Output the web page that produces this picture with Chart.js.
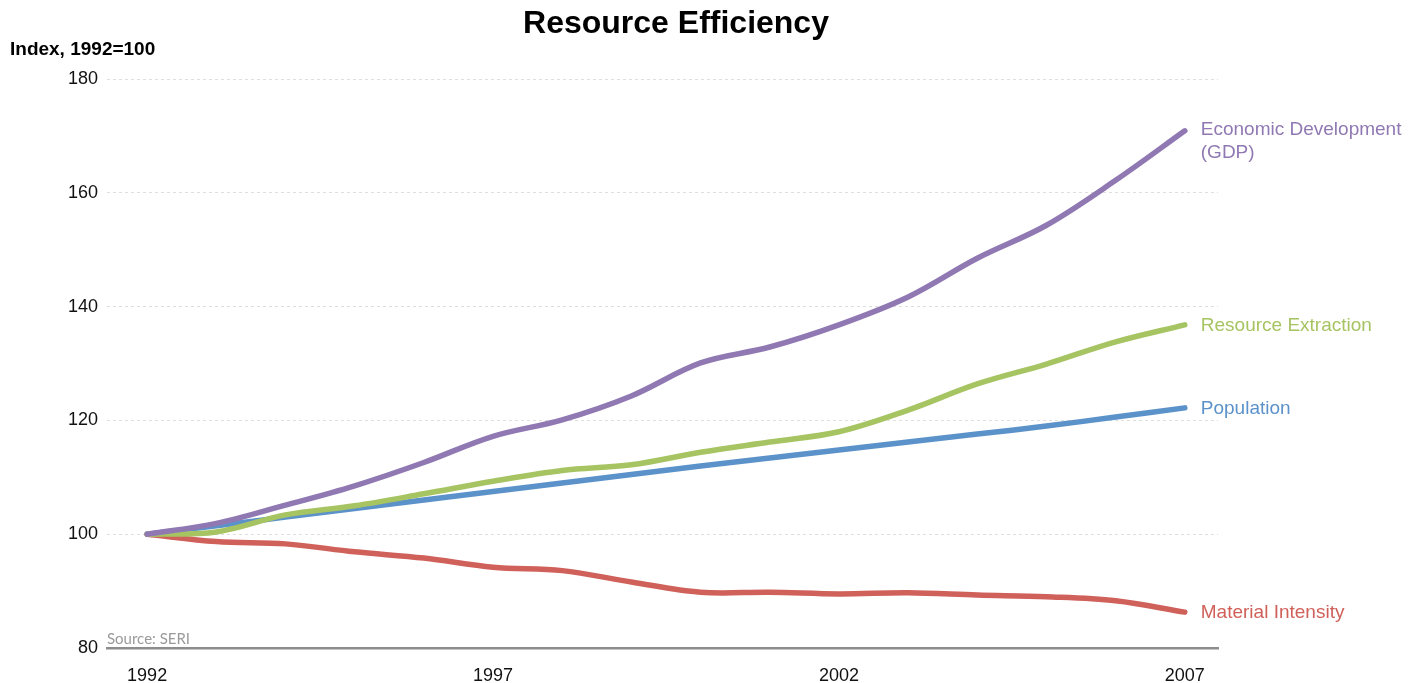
<!DOCTYPE html>
<html>
<head>
<meta charset="utf-8">
<title>Resource Efficiency</title>
<script src="https://cdn.jsdelivr.net/npm/chart.js@4/dist/chart.umd.min.js"></script>
<style>
  html, body { margin: 0; padding: 0; background: #fff; }
  #wrap { width: 1418px; height: 683px; position: relative; }
</style>
</head>
<body>
<div id="wrap"><canvas id="chart"></canvas></div>
<script>
// data (index, 1992 = 100)
const years = [1992, 1993, 1994, 1995, 1996, 1997, 1998, 1999, 2000, 2001, 2002, 2003, 2004, 2005, 2006, 2007];
const gdp = [100, 101.9, 105.1, 108.5, 112.6, 117.2, 120.1, 124.3, 130.1, 132.9, 136.8, 141.7, 148.5, 154.3, 162.2, 170.9];
const extraction = [100, 100.4, 103.4, 105.0, 107.1, 109.3, 111.2, 112.2, 114.4, 116.2, 118.0, 121.8, 126.4, 129.9, 133.8, 136.8];
const population = [100, 101.5, 103.0, 104.5, 106.0, 107.5, 109.0, 110.5, 112.0, 113.4, 114.8, 116.2, 117.6, 119.0, 120.6, 122.2];
const intensity = [100, 98.7, 98.3, 96.9, 95.8, 94.2, 93.6, 91.6, 89.8, 89.8, 89.5, 89.7, 89.3, 89.0, 88.3, 86.3];
const xTicks = [1992, 1997, 2002, 2007];
const seriesNames = ['Economic Development (GDP)', 'Resource Extraction', 'Population', 'Material Intensity'];
const endLabels = [['Economic Development', '(GDP)'], ['Resource Extraction'], ['Population'], ['Material Intensity']];
const colors = ['#9079B3', '#A7C463', '#5B92CA', '#D0605A'];

const FONT = 'Arial, "Liberation Sans", Helvetica, sans-serif';
const toPoints = (vals) => vals.map((v, i) => ({ x: years[i], y: v }));

// titles, source note and the line end labels are drawn by hand
const decorPlugin = {
    id: 'decor',
    afterDatasetsDraw(chart) {
        const ctx = chart.ctx;
        ctx.save();
        ctx.textBaseline = 'middle';
        ctx.font = '19px ' + FONT;
        chart.data.datasets.forEach((ds, i) => {
            const meta = chart.getDatasetMeta(i);
            const last = meta.data[meta.data.length - 1];
            ctx.fillStyle = colors[i];
            ctx.textAlign = 'left';
            const lines = endLabels[i];
            const y0 = lines.length > 1 ? last.y - 1 : last.y + 1;
            lines.forEach((t, k) => ctx.fillText(t, last.x + 16, y0 + k * 23));
        });

        ctx.fillStyle = '#000';
        ctx.textAlign = 'center';
        ctx.font = 'bold 32px ' + FONT;
        ctx.fillText('Resource Efficiency', 676, 24);

        ctx.textAlign = 'left';
        ctx.font = 'bold 19px ' + FONT;
        ctx.fillText('Index, 1992=100', 10, 50);

        ctx.fillStyle = '#9a9a9a';
        ctx.font = '15px Lato, "Open Sans", sans-serif';
        ctx.fillText('Source: SERI', 107, 639);
        ctx.restore();
    }
};

const chart = new Chart(document.getElementById('chart'), {
    type: 'line',
    data: {
        datasets: [gdp, extraction, population, intensity].map((vals, i) => ({
            label: seriesNames[i],
            data: toPoints(vals),
            order: i,
            borderColor: colors[i],
            backgroundColor: colors[i],
            borderWidth: 5.5,
            borderCapStyle: 'round',
            borderJoinStyle: 'round',
            pointRadius: 0,
            tension: 0.35,
            fill: false
        }))
    },
    options: {
        responsive: true,
        maintainAspectRatio: false,
        animation: false,
        layout: { padding: { left: 0, right: 200, top: 79, bottom: 0 } },
        plugins: {
            legend: { display: false },
            tooltip: { enabled: false }
        },
        scales: {
            x: {
                type: 'linear',
                min: 1991.42,
                max: 2007.48,
                afterBuildTicks: (axis) => { axis.ticks = xTicks.map(v => ({ value: v })); },
                afterFit: (axis) => { axis.height = 35; },
                grid: { display: false, drawTicks: false },
                border: { display: true, color: '#8c8c8c', width: 2.5 },
                ticks: {
                    color: '#111',
                    font: { size: 18, family: FONT },
                    padding: 17,
                    maxRotation: 0,
                    callback: (v) => String(v)
                }
            },
            y: {
                min: 80,
                max: 180,
                afterFit: (axis) => { axis.width = 107; },
                ticks: {
                    stepSize: 20,
                    color: '#111',
                    font: { size: 18, family: FONT },
                    padding: 9
                },
                border: { display: false, dash: [3, 3] },
                grid: { color: '#dedede', lineWidth: 1, drawTicks: false }
            }
        }
    },
    plugins: [decorPlugin]
});
</script>
</body>
</html>
